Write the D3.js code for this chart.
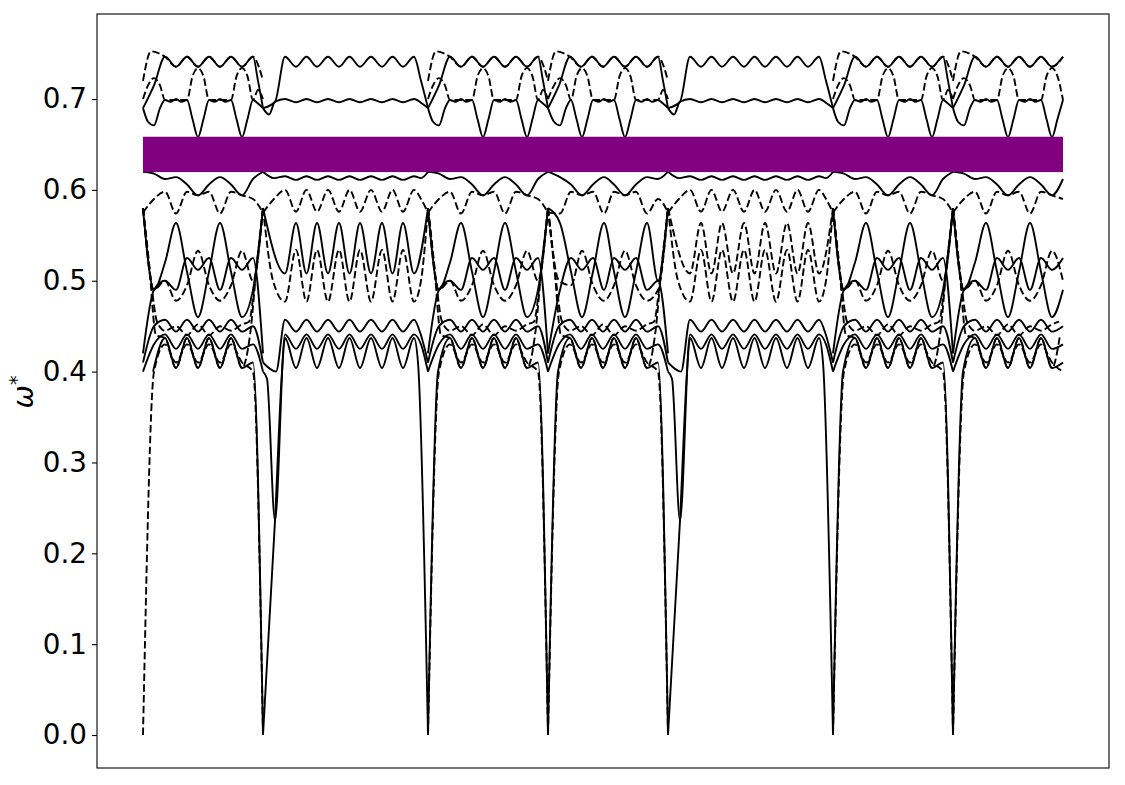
<!DOCTYPE html>
<html>
<head>
<meta charset="utf-8">
<script src="https://cdn.jsdelivr.net/npm/d3@7"></script>
<style>
  html, body { margin: 0; padding: 0; background: #fff; }
  svg { display: block; }
</style>
</head>
<body>
<svg id="chart" width="1125" height="785"></svg>
<script>
// ---------------- data ----------------
// path coordinate k (arbitrary units along the wave-vector path); segments between high-symmetry points
const segmentStart  = [0, 120, 285, 405, 525, 690, 810];
const segmentLength = [120, 165, 120, 120, 165, 120, 110];
const segmentType   = ["lens", "flat", "lens", "lensB", "flat", "lens", "lens"];
const pathEnd = 920;

const yTicks = [0.0, 0.1, 0.2, 0.3, 0.4, 0.5, 0.6, 0.7];
const gapBand = [0.6196, 0.6585];   // band gap (purple)

// band shapes per segment type: [local k, omega*]
const b0Lens = [[0,0],[10,0.40],[22,0.437],[33,0.404],[44,0.437],[55,0.404],[66,0.437],[77,0.404],[88,0.437],[99,0.404],[110,0.41],[120,0]];
const b0Flat = [[0,0],[12,0.236],[19,0.40],[22,0.437],[33,0.404],[43.5,0.437],[54,0.404],[65,0.437],[76,0.404],[86.5,0.437],[97,0.404],[108,0.437],[119,0.404],[129.5,0.437],[140,0.404],[151,0.437],[155,0.41],[165,0]];

const b1Lens = [[0,0],[11,0.40],[22,0.43],[33,0.41],[44,0.43],[55,0.41],[66,0.43],[77,0.41],[88,0.43],[99,0.41],[110,0.40],[120,0]];

const b2Lens = [[0,0.40],[11,0.43],[22,0.441],[33,0.425],[44,0.441],[55,0.425],[66,0.441],[77,0.425],[88,0.441],[99,0.425],[110,0.43],[120,0.40]];
const b2Flat = [[0,0.40],[4,0.392],[12,0.236],[22,0.441],[33,0.425],[43.5,0.441],[54,0.425],[65,0.441],[76,0.425],[86.5,0.441],[97,0.425],[108,0.441],[119,0.425],[129.5,0.441],[140,0.425],[151,0.441],[158,0.43],[165,0.40]];

const b3Lens = [[0,0.41],[11,0.45],[22,0.457],[33,0.444],[44,0.457],[55,0.444],[66,0.457],[77,0.444],[88,0.457],[99,0.444],[110,0.45],[120,0.41]];
const b3Flat = [[0,0.41],[13,0.40],[22,0.457],[33,0.444],[43.5,0.457],[54,0.444],[65,0.457],[76,0.444],[86.5,0.457],[97,0.444],[108,0.457],[119,0.444],[129.5,0.457],[140,0.444],[151,0.457],[158,0.44],[165,0.41]];

const b4Lens = [[0,0.58],[8,0.50],[14,0.455],[22,0.445],[33,0.45],[44,0.44],[55,0.452],[66,0.44],[77,0.45],[88,0.445],[99,0.452],[106,0.455],[112,0.50],[120,0.58]];

const b5Lens  = [[0,0.58],[11,0.49],[22,0.50],[33,0.478],[44,0.495],[55,0.533],[66,0.495],[77,0.478],[88,0.495],[99,0.533],[110,0.50],[120,0.58]];
const b5LensB = [[0,0.58],[11,0.50],[23,0.495],[34,0.533],[45,0.495],[56,0.478],[66,0.495],[77,0.533],[88,0.495],[99,0.478],[110,0.49],[120,0.58]];
const b5Flat  = [[0,0.58],[10,0.50],[22,0.477],[33,0.534],[43.5,0.477],[54,0.534],[65,0.477],[76,0.534],[86.5,0.477],[97,0.534],[108,0.477],[119,0.534],[129.5,0.477],[140,0.534],[151,0.477],[158,0.50],[165,0.58]];

const b6Lens  = [[0,0.58],[11,0.49],[22,0.52],[33,0.5635],[44,0.51],[55,0.46],[66,0.51],[77,0.5635],[88,0.51],[99,0.46],[110,0.49],[120,0.58]];
const b6LensB = [[0,0.58],[12,0.5635],[23,0.51],[34,0.46],[45,0.51],[56,0.5635],[66,0.51],[77,0.46],[88,0.51],[99,0.5635],[110,0.50],[120,0.58]];
const b6Flat  = [[0,0.58],[22,0.508],[33,0.5635],[43.5,0.508],[54,0.5635],[65,0.508],[76,0.5635],[86.5,0.508],[97,0.5635],[108,0.508],[119,0.5635],[129.5,0.508],[140,0.5635],[151,0.508],[165,0.58]];
const b6Styles = ["solid","solid","solid","solid","dashed","solid","solid"];

const b7Lens  = [[0,0.42],[11,0.49],[22,0.50],[33,0.49],[44,0.525],[55,0.512],[66,0.525],[77,0.49],[88,0.525],[99,0.512],[110,0.525],[120,0.42]];
const b7LensB = [[0,0.42],[12,0.49],[23,0.525],[34,0.512],[45,0.525],[56,0.49],[66,0.525],[77,0.512],[88,0.525],[99,0.49],[110,0.50],[120,0.42]];

const b8Lens  = [[0,0.575],[11,0.59],[22,0.598],[33,0.574],[44,0.598],[55,0.594],[66,0.598],[77,0.574],[88,0.598],[99,0.594],[110,0.59],[120,0.575]];
const b8LensB = [[0,0.575],[12,0.574],[23,0.598],[34,0.594],[45,0.598],[56,0.574],[66,0.598],[77,0.594],[88,0.598],[99,0.574],[110,0.59],[120,0.575]];
const b8Flat  = [[0,0.575],[11,0.59],[22,0.600],[33,0.576],[43.5,0.600],[54,0.576],[65,0.600],[76,0.576],[86.5,0.600],[97,0.576],[108,0.600],[119,0.576],[129.5,0.600],[140,0.576],[151,0.600],[158,0.59],[165,0.575]];

const b9Lens = [[0,0.58],[6,0.52],[13,0.44],[22,0.437],[33,0.404],[44,0.437],[55,0.404],[66,0.437],[77,0.404],[88,0.437],[99,0.404],[107,0.44],[114,0.52],[120,0.58]];

const b10Lens  = [[0,0.62],[11,0.618],[22,0.612],[33,0.614],[44,0.606],[55,0.594],[66,0.606],[77,0.614],[88,0.606],[99,0.594],[110,0.612],[120,0.62]];
const b10LensB = [[0,0.62],[12,0.614],[23,0.606],[34,0.594],[45,0.606],[56,0.614],[66,0.606],[77,0.594],[88,0.606],[99,0.614],[110,0.612],[120,0.62]];
const b10Flat  = [[0,0.62],[11,0.613],[22,0.615],[33,0.611],[43.5,0.615],[54,0.611],[65,0.615],[76,0.611],[86.5,0.615],[97,0.611],[108,0.615],[119,0.611],[129.5,0.615],[140,0.611],[151,0.615],[158,0.613],[165,0.62]];

const b11Lens  = [[0,0.69],[5,0.675],[11,0.671],[17,0.69],[22,0.699],[27.5,0.697],[33,0.700],[38.5,0.697],[44,0.699],[49.5,0.678],[55,0.658],[60.5,0.678],[66,0.699],[71.5,0.697],[77,0.700],[82.5,0.697],[88,0.699],[93.5,0.678],[99,0.658],[104.5,0.678],[110,0.699],[115,0.695],[120,0.69]];
const b11LensB = [[0,0.69],[6,0.675],[12,0.671],[18,0.69],[23,0.699],[28.5,0.678],[34,0.658],[39.5,0.678],[45,0.699],[50.5,0.697],[56,0.700],[61,0.697],[66,0.699],[71.5,0.678],[77,0.658],[82.5,0.678],[88,0.699],[93.5,0.697],[99,0.700],[104.5,0.697],[110,0.699],[115,0.695],[120,0.69]];
const b11Flat  = [[0,0.69],[6,0.683],[12,0.697],[22,0.700],[33,0.6965],[43.5,0.700],[54,0.6965],[65,0.700],[76,0.6965],[86.5,0.700],[97,0.6965],[108,0.700],[119,0.6965],[129.5,0.700],[140,0.6965],[151,0.700],[159,0.695],[165,0.69]];

const b12Lens  = [[0,0.70],[5,0.715],[11,0.723],[17,0.715],[22,0.699],[44,0.699],[49.5,0.725],[55,0.734],[60.5,0.725],[66,0.699],[88,0.699],[93.5,0.725],[99,0.734],[104.5,0.725],[110,0.699],[115,0.71],[120,0.70]];
const b12LensB = [[0,0.70],[6,0.715],[12,0.723],[18,0.715],[23,0.699],[28.5,0.725],[34,0.734],[39.5,0.725],[45,0.699],[66,0.699],[71.5,0.725],[77,0.734],[82.5,0.725],[88,0.699],[110,0.699],[115,0.71],[120,0.70]];

const b13Lens = [[0,0.69],[11,0.715],[22,0.7465],[33,0.7355],[44,0.7465],[55,0.7355],[66,0.7465],[77,0.7355],[88,0.7465],[99,0.7355],[110,0.7465],[115,0.72],[120,0.69]];
const b13Flat = [[0,0.69],[12,0.697],[22,0.7465],[33,0.7355],[43.5,0.7465],[54,0.7355],[65,0.7465],[76,0.7355],[86.5,0.7465],[97,0.7355],[108,0.7465],[119,0.7355],[129.5,0.7465],[140,0.7355],[151,0.7465],[158,0.72],[165,0.69]];

const b14Lens = [[0,0.72],[8,0.7525],[22,0.7465],[33,0.7355],[44,0.7465],[55,0.7355],[66,0.7465],[77,0.7355],[88,0.7465],[99,0.7355],[110,0.7465],[116,0.735],[120,0.72]];

// ---------------- chart ----------------
const plot = { left: 97, right: 1109, top: 14, bottom: 768 };

const x = d3.scaleLinear().domain([-46, 966]).range([plot.left, plot.right]);
const y = d3.scaleLinear().domain([-0.0363, 0.7936]).range([plot.bottom, plot.top]);

const svg = d3.select("#chart");

const bands = [
  { tpl: { lens: b1Lens }, style: "dashed" },
  { tpl: { lens: b9Lens }, style: "dashed" },
  { tpl: { lens: b4Lens }, style: "dashed" },
  { tpl: { lens: b5Lens, lensB: b5LensB, flat: b5Flat }, style: "dashed" },
  { tpl: { lens: b8Lens, lensB: b8LensB, flat: b8Flat }, style: "dashed" },
  { tpl: { lens: b12Lens, lensB: b12LensB }, style: "dashed" },
  { tpl: { lens: b14Lens }, style: "dashed" },
  { tpl: { lens: b0Lens, flat: b0Flat }, style: "solid", skipStart: 10 },
  { tpl: { lens: b2Lens, flat: b2Flat }, style: "solid" },
  { tpl: { lens: b3Lens, flat: b3Flat }, style: "solid" },
  { tpl: { lens: b6Lens, lensB: b6LensB, flat: b6Flat }, style: b6Styles },
  { tpl: { lens: b7Lens, lensB: b7LensB }, style: "solid" },
  { tpl: { lens: b10Lens, lensB: b10LensB, flat: b10Flat }, style: "solid" },
  { tpl: { lens: b11Lens, lensB: b11LensB, flat: b11Flat }, style: "solid" },
  { tpl: { lens: b13Lens, flat: b13Flat }, style: "solid" }
];

const line = d3.line()
  .x(d => x(d[0]))
  .y(d => y(d[1]))
  .curve(d3.curveMonotoneX);

const gLines = svg.append("g");
bands.forEach(band => {
  segmentType.forEach((type, i) => {
    let tpl = band.tpl[type];
    if (!tpl && type === "lensB") tpl = band.tpl.lens;
    if (!tpl) return;
    let pts = tpl.filter(p => p[0] <= segmentLength[i]);
    if (i === 0 && band.skipStart) pts = pts.filter(p => p[0] >= band.skipStart);
    pts = pts.map(p => [segmentStart[i] + p[0], p[1]]);
    const st = Array.isArray(band.style) ? band.style[i] : band.style;
    gLines.append("path")
      .attr("d", line(pts))
      .attr("fill", "none")
      .attr("stroke", "#000")
      .attr("stroke-width", 1.9)
      .attr("stroke-linejoin", "round")
      .attr("stroke-dasharray", st === "dashed" ? "7.5,3.3" : null);
  });
});

// band gap
svg.append("rect")
  .attr("x", x(0))
  .attr("width", x(pathEnd) - x(0))
  .attr("y", y(gapBand[1]))
  .attr("height", y(gapBand[0]) - y(gapBand[1]))
  .attr("fill", "#800080");

// frame
svg.append("rect")
  .attr("x", plot.left).attr("y", plot.top)
  .attr("width", plot.right - plot.left).attr("height", plot.bottom - plot.top)
  .attr("fill", "none").attr("stroke", "#000").attr("stroke-width", 1.1);

// y axis
const yAxis = d3.axisLeft(y).tickValues(yTicks).tickFormat(d3.format(".1f")).tickSize(5).tickPadding(5);
const ga = svg.append("g").attr("transform", `translate(${plot.left},0)`).call(yAxis);
ga.select(".domain").remove();
ga.selectAll(".tick line").attr("stroke", "#000").attr("stroke-width", 1.1);
ga.selectAll(".tick text")
  .attr("fill", "#000")
  .style("font-family", "DejaVu Sans, sans-serif")
  .style("font-size", "27.8px");

// y label  ω*
const lbl = svg.append("text")
  .attr("transform", `translate(33, 392) rotate(-90)`)
  .attr("text-anchor", "middle")
  .style("font-family", "DejaVu Sans, sans-serif")
  .style("font-size", "27.8px")
  .attr("fill", "#000");
lbl.append("tspan").style("font-style", "italic").text("ω");
lbl.append("tspan").attr("dy", "-0.55em").style("font-size", "19px").text("*");
</script>
</body>
</html>
